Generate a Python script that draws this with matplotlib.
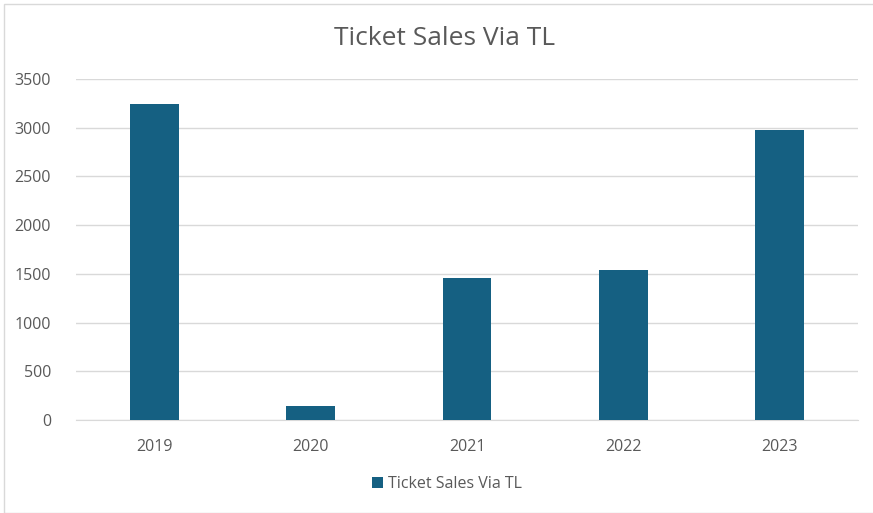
import matplotlib
matplotlib.use("Agg")
import matplotlib.pyplot as plt
from matplotlib.patches import Rectangle

years = ["2019", "2020", "2021", "2022", "2023"]
sales = [3248, 140, 1455, 1538, 2977]
yticks = [0, 500, 1000, 1500, 2000, 2500, 3000, 3500]
title = "Ticket Sales Via TL"

plt.rcParams['font.family'] = ['Open Sans', 'DejaVu Sans']
W, H = 873, 513
fig = plt.figure(figsize=(W/100, H/100), dpi=100)
ax = fig.add_axes([76/W, 1-420/H, (858-76)/W, (420-79)/H])

x = list(range(len(years)))
ax.bar(x, sales, width=0.313, color="#156082", zorder=3, label=title)
ax.set_xlim(-0.5, len(years)-0.5)
ax.set_ylim(0, 3500)
ax.set_yticks(yticks)
ax.set_yticklabels([str(v) for v in yticks])
ax.set_xticks(x)
ax.set_xticklabels(years)
ax.grid(axis='y', color="#d9d9d9", linewidth=1, zorder=0)
for s in ['top', 'right', 'left']:
    ax.spines[s].set_visible(False)
ax.spines['bottom'].set_color("#d9d9d9")
ax.tick_params(axis='both', length=0, labelsize=11.5, colors="#595959")
ax.tick_params(axis='y', pad=18)
ax.tick_params(axis='x', pad=14)

fig.text(445/W, 1-39/H, title, ha='center', va='center', fontsize=19, color="#595959")
leg = fig.legend(loc='center', bbox_to_anchor=(447/W, 1-484/H), frameon=False,
                 fontsize=11.5, handlelength=0.65, handleheight=0.65, handletextpad=0.3)
for t in leg.get_texts():
    t.set_color("#595959")

fig.patches.append(Rectangle((4/W, 0), 1, 1-4/H, transform=fig.transFigure,
                             fill=False, edgecolor="#d9d9d9", linewidth=1))
fig.savefig("out.png", dpi=100)
